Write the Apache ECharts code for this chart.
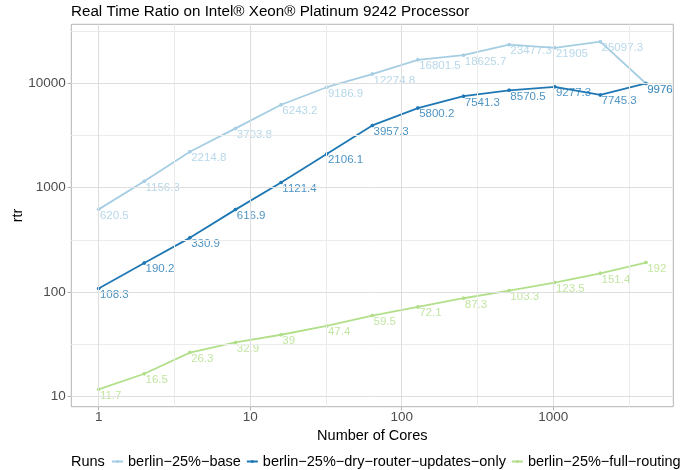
<!DOCTYPE html>
<html>
<head>
<meta charset="utf-8">
<script src="https://cdn.jsdelivr.net/npm/echarts@6/dist/echarts.min.js"></script>
<style>
  html, body { margin: 0; padding: 0; background: #fff; }
  #chart { width: 692px; height: 470px; }
</style>
</head>
<body>
<div id="chart"></div>
<script>
// Core counts on the x axis (log scale)
const cores = [1, 2, 4, 8, 16, 32, 64, 128, 256, 512, 1024, 2048, 4096];

// Real time ratio per run
const rtrBase = [620.5, 1156.3, 2214.8, 3703.8, 6243.2, 9186.9, 12274.8, 16801.5, 18625.7, 23477.3, 21905, 25097.3, 9970];
const rtrDryRouterUpdatesOnly = [108.3, 190.2, 330.9, 616.9, 1121.4, 2106.1, 3957.3, 5800.2, 7541.3, 8570.5, 9277.3, 7745.3, 9976];
const rtrFullRouting = [11.7, 16.5, 26.3, 32.9, 39, 47.4, 59.5, 72.1, 87.3, 103.3, 123.5, 151.4, 192];

const runNames = ['berlin−25%−base', 'berlin−25%−dry−router−updates−only', 'berlin−25%−full−routing'];
const runColors = ['#a6cee3', '#1f78b4', '#b2df8a'];

// Axis breaks
const xTicks = [1, 10, 100, 1000];
const yTicks = [10, 100, 1000, 10000];

const FONT = '"Liberation Sans", Arial, Helvetica, sans-serif';

// Log-space limits with 5% padding on each side
function paddedLogRange(values) {
  const lo = Math.log10(Math.min(...values));
  const hi = Math.log10(Math.max(...values));
  const pad = (hi - lo) * 0.05;
  return [Math.pow(10, lo - pad), Math.pow(10, hi + pad)];
}
const [xMin, xMax] = paddedLogRange(cores);
const [yMin, yMax] = paddedLogRange(rtrBase.concat(rtrDryRouterUpdatesOnly, rtrFullRouting));

// Half-decade minor grid positions
const halfDecades = ticks => ticks.map(t => t * Math.sqrt(10));
const xMinor = [Math.sqrt(10) / 10].concat(halfDecades(xTicks)).filter(v => v > xMin && v < xMax);
const yMinor = halfDecades([1].concat(yTicks)).filter(v => v > yMin && v < yMax);

const gridLines = []
  .concat(xMinor.map(v => ({ xAxis: v, lineStyle: { color: '#ebebeb', width: 1, type: 'solid' } })))
  .concat(yMinor.map(v => ({ yAxis: v, lineStyle: { color: '#ebebeb', width: 1, type: 'solid' } })))
  .concat(xTicks.map(v => ({ xAxis: v, lineStyle: { color: '#dedede', width: 1, type: 'solid' } })))
  .concat(yTicks.map(v => ({ yAxis: v, lineStyle: { color: '#dedede', width: 1, type: 'solid' } })));

const pairs = values => cores.map((c, i) => [c, values[i]]);

// Connecting line for one run (also provides the legend key)
function runLine(name, values, color) {
  return {
    name: name,
    type: 'line',
    data: pairs(values),
    symbol: 'circle',
    symbolSize: 3.5,
    showSymbol: true,
    lineStyle: { color: color, width: 1.8 },
    itemStyle: { color: color },
    emphasis: { disabled: true },
    silent: true,
    z: 2
  };
}

// Points with value labels, drawn above every line
function runLabels(values, color) {
  return {
    type: 'scatter',
    data: pairs(values),
    symbol: 'circle',
    symbolSize: 3.5,
    itemStyle: { color: color },
    label: {
      show: true,
      position: [3.0, 2.0],
      align: 'left',
      verticalAlign: 'top',
      fontSize: 11.5,
      fontFamily: FONT,
      color: color,
      formatter: p => String(p.value[1])
    },
    emphasis: { disabled: true },
    silent: true,
    z: 4
  };
}

const chart = echarts.init(document.getElementById('chart'), null, { renderer: 'canvas' });

chart.setOption({
  animation: false,
  backgroundColor: '#fff',
  textStyle: { fontFamily: FONT },
  title: [
    {
      text: 'Real Time Ratio on Intel® Xeon® Platinum 9242 Processor',
      left: 71, top: 4.5, padding: 0,
      textStyle: { fontSize: 15.2, fontWeight: 'normal', color: '#000', fontFamily: FONT }
    },
    {
      text: 'Runs',
      left: 71, top: 454, padding: 0,
      textStyle: { fontSize: 14.5, fontWeight: 'normal', color: '#000', fontFamily: FONT }
    }
  ],
  legend: {
    data: runNames,
    left: 111, top: 454, padding: 0,
    itemWidth: 11, itemHeight: 4, itemGap: 5,
    textStyle: { fontSize: 14.5, color: '#000', fontFamily: FONT }
  },
  grid: {
    left: 71.3, top: 24.3, width: 602, height: 382.4,
    containLabel: false, outerBoundsMode: 'none',
    show: true, backgroundColor: '#fff', borderColor: '#b3b3b3', borderWidth: 1
  },
  xAxis: {
    type: 'log', logBase: 10, min: xMin, max: xMax,
    name: 'Number of Cores', nameLocation: 'middle', nameGap: 21.5, nameMoveOverlap: false,
    nameTextStyle: { fontSize: 14.5, color: '#000', fontFamily: FONT },
    axisLine: { show: false },
    axisTick: { show: true, length: 3.7, customValues: xTicks, lineStyle: { color: '#b3b3b3' } },
    axisLabel: { customValues: xTicks, margin: 4, fontSize: 13.5, color: '#4d4d4d', fontFamily: FONT, formatter: v => String(v) },
    splitLine: { show: false },
    minorSplitLine: { show: false }
  },
  yAxis: {
    type: 'log', logBase: 10, min: yMin, max: yMax,
    name: 'rtr', nameLocation: 'middle', nameGap: 46, nameMoveOverlap: false,
    nameTextStyle: { fontSize: 14.5, color: '#000', fontFamily: FONT },
    axisLine: { show: false },
    axisTick: { show: true, length: 3.7, customValues: yTicks, lineStyle: { color: '#b3b3b3' } },
    axisLabel: { customValues: yTicks, margin: 5.5, fontSize: 13.5, color: '#4d4d4d', fontFamily: FONT, formatter: v => String(v) },
    splitLine: { show: false },
    minorSplitLine: { show: false }
  },
  series: [
    {
      type: 'line',
      data: [],
      silent: true,
      z: 1,
      markLine: {
        silent: true,
        symbol: 'none',
        label: { show: false },
        emphasis: { disabled: true },
        animation: false,
        data: gridLines
      }
    },
    runLine(runNames[0], rtrBase, runColors[0]),
    runLine(runNames[1], rtrDryRouterUpdatesOnly, runColors[1]),
    runLine(runNames[2], rtrFullRouting, runColors[2]),
    runLabels(rtrBase, runColors[0]),
    runLabels(rtrDryRouterUpdatesOnly, runColors[1]),
    runLabels(rtrFullRouting, runColors[2])
  ]
});
</script>
</body>
</html>
